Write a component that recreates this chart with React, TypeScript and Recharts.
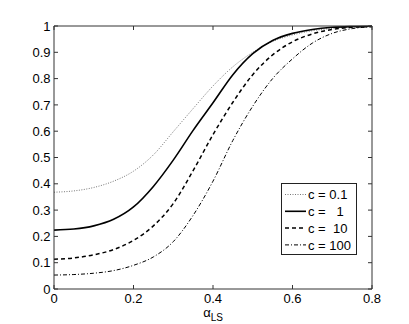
import React from 'react';
import { LineChart, Line, XAxis, YAxis, Legend } from 'recharts';

// alpha_LS sample points
const alphaLS = [0, 0.05, 0.1, 0.15, 0.2, 0.25, 0.3, 0.35, 0.4, 0.45, 0.5, 0.55, 0.6, 0.65, 0.7, 0.75, 0.8];

const c01 = [0.368, 0.373, 0.386, 0.41, 0.448, 0.51, 0.598, 0.686, 0.772, 0.845, 0.9, 0.941, 0.966, 0.982, 0.991, 0.996, 0.998];
const c1 = [0.224, 0.228, 0.24, 0.265, 0.312, 0.39, 0.49, 0.603, 0.708, 0.815, 0.895, 0.945, 0.972, 0.987, 0.995, 0.998, 0.999];
const c10 = [0.113, 0.118, 0.13, 0.15, 0.185, 0.24, 0.325, 0.45, 0.587, 0.71, 0.815, 0.89, 0.94, 0.97, 0.987, 0.995, 0.998];
const c100 = [0.053, 0.055, 0.06, 0.07, 0.09, 0.122, 0.18, 0.28, 0.41, 0.565, 0.695, 0.8, 0.875, 0.935, 0.972, 0.99, 0.997];

const xTicks = [0, 0.2, 0.4, 0.6, 0.8];
const yTicks = [0, 0.1, 0.2, 0.3, 0.4, 0.5, 0.6, 0.7, 0.8, 0.9, 1];

const legendLabels = ['c = 0.1', 'c =   1', 'c =  10', 'c = 100'];

const series = [
  { key: 'c01', values: c01, stroke: '#777', width: 1, dash: '1 1.5' },
  { key: 'c1', values: c1, stroke: '#000', width: 1.6, dash: undefined },
  { key: 'c10', values: c10, stroke: '#000', width: 1.5, dash: '4 3' },
  { key: 'c100', values: c100, stroke: '#000', width: 1, dash: '4 2 1 2' },
];

const data = alphaLS.map((a, i) => {
  const row: Record<string, number> = { alpha: a };
  series.forEach((s) => (row[s.key] = s.values[i]));
  return row;
});

const FONT = '"Liberation Sans", Arial, Helvetica, sans-serif';
const FRAME = '#333';

const noTick = () => <g />;

function renderLegend() {
  return (
    <div style={{ width: 76, height: 72, border: '1px solid #222', background: '#fff', boxSizing: 'border-box' }}>
      <svg width={74} height={70}>
        {series.map((s, i) => {
          const y = 10.5 + i * 16.8;
          return (
            <g key={s.key}>
              <line x1={3} x2={24} y1={y} y2={y} stroke={s.stroke} strokeWidth={s.width} strokeDasharray={s.dash} />
              <text x={26} y={y + 4.7} fontSize={13} fontFamily={FONT} fill="#000" style={{ whiteSpace: 'pre' }}>
                {legendLabels[i]}
              </text>
            </g>
          );
        })}
      </svg>
    </div>
  );
}

function AlphaLabel(props: any) {
  const vb = props.viewBox || {};
  const cx = vb.x + vb.width / 2;
  return (
    <text x={cx} y={vb.y + 28} textAnchor="middle" fontFamily={FONT} fontSize={13} fill="#000">
      <tspan>α</tspan>
      <tspan dy={4} fontSize={10}>LS</tspan>
    </text>
  );
}

export default function App() {
  return (
    <div style={{ position: 'absolute', left: 0, top: 0, width: 409, height: 324, background: '#fff' }}>
      <LineChart width={409} height={324} data={data} margin={{ top: 25, right: 36, left: 0, bottom: 0 }}>
        <XAxis
          xAxisId="b"
          dataKey="alpha"
          type="number"
          domain={[0, 0.8]}
          ticks={xTicks}
          height={35}
          tickSize={-4}
          tickMargin={9}
          stroke={FRAME}
          tick={{ fill: '#000', fontSize: 13, fontFamily: FONT }}
          label={<AlphaLabel />}
        />
        <XAxis
          xAxisId="t"
          orientation="top"
          dataKey="alpha"
          type="number"
          domain={[0, 0.8]}
          ticks={xTicks}
          height={1}
          tickSize={-4}
          stroke={FRAME}
          tick={noTick}
          allowDataOverflow
        />
        <YAxis
          yAxisId="l"
          type="number"
          domain={[0, 1]}
          ticks={yTicks}
          width={54}
          tickSize={-4}
          tickMargin={7.5}
          stroke={FRAME}
          tick={{ fill: '#000', fontSize: 13, fontFamily: FONT }}
        />
        <YAxis
          yAxisId="r"
          orientation="right"
          type="number"
          domain={[0, 1]}
          ticks={yTicks}
          width={1}
          tickSize={-4}
          stroke={FRAME}
          tick={noTick}
          allowDataOverflow
        />
        <Legend
          layout="vertical"
          align="center"
          verticalAlign="middle"
          content={renderLegend}
          wrapperStyle={{ left: 281, top: 183, width: 76, height: 72 }}
        />
        {/* invisible series so the top / right frame axes get a scale */}
        <Line
          xAxisId="t"
          yAxisId="r"
          dataKey="c1"
          stroke="none"
          dot={false}
          activeDot={false}
          legendType="none"
          isAnimationActive={false}
        />
        {series.map((s) => (
          <Line
            key={s.key}
            xAxisId="b"
            yAxisId="l"
            dataKey={s.key}
            type="monotone"
            stroke={s.stroke}
            strokeWidth={s.width}
            strokeDasharray={s.dash}
            dot={false}
            activeDot={false}
            isAnimationActive={false}
          />
        ))}
      </LineChart>
    </div>
  );
}
